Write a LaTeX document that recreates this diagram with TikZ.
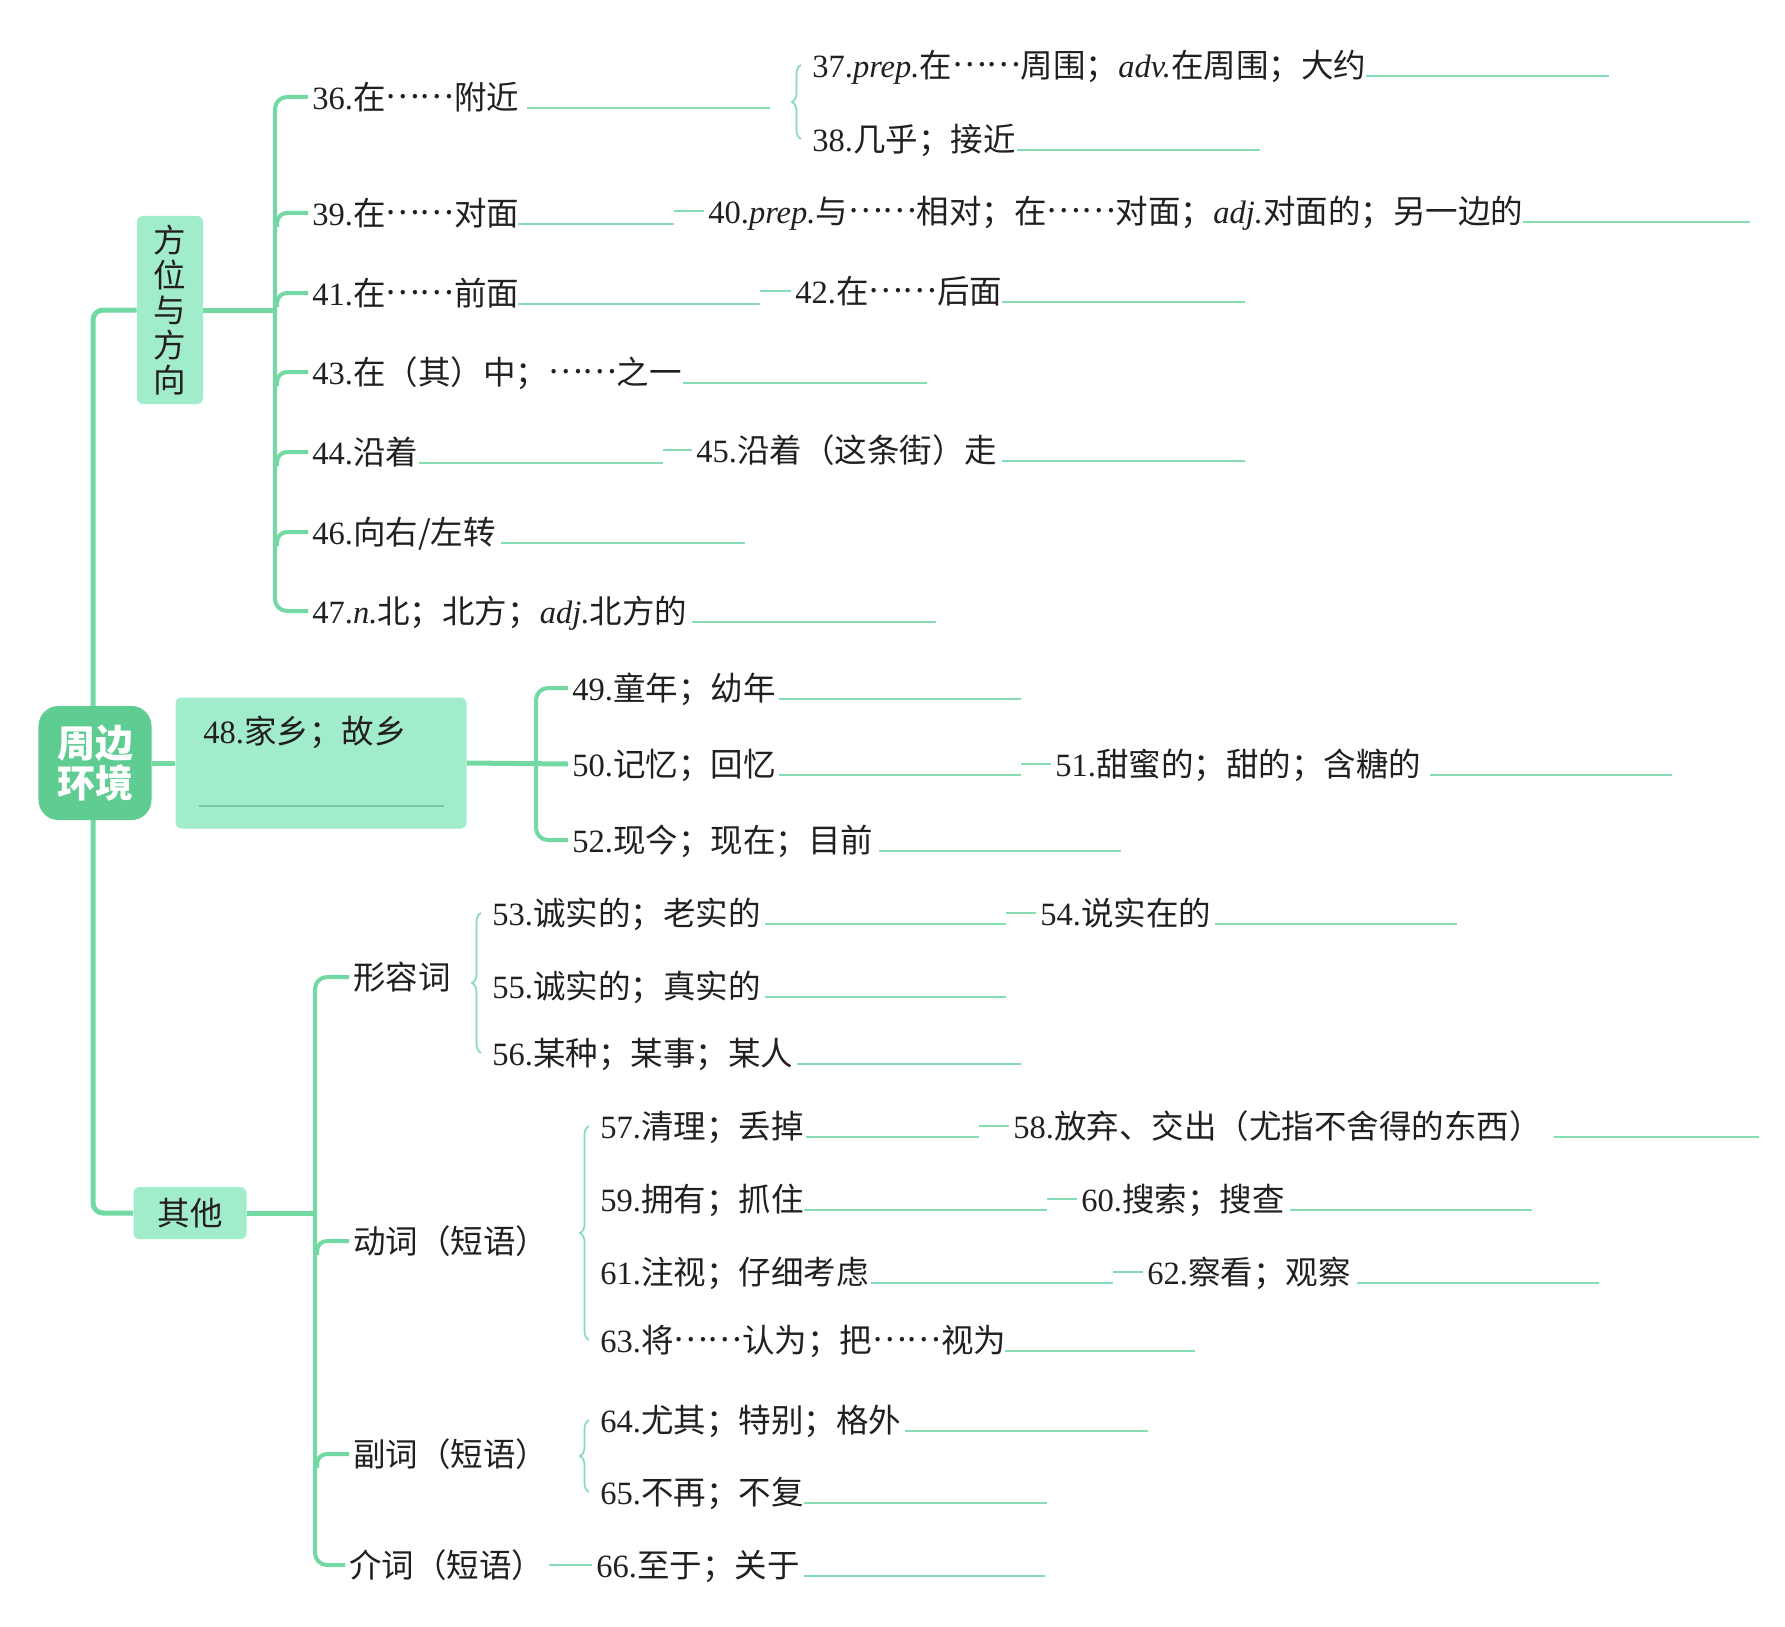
\documentclass[tikz,border=0pt]{standalone}
\usepackage{fontspec}
\setmainfont{Noto Sans CJK SC}
\newfontfamily\latn{Liberation Serif}
\newcommand\nr[1]{{\latn #1.}}
\newcommand\wc[1]{{\latn\itshape #1.}}
\newcommand\ellp{\raisebox{0.32em}{……}}
\usetikzlibrary{decorations.pathreplacing}
\definecolor{ink}{HTML}{231F20}
\definecolor{rootgreen}{HTML}{5FCC92}
\definecolor{linegreen}{HTML}{72D9A3}
\definecolor{boxgreen}{HTML}{A0ECCB}
\definecolor{blankgreen}{HTML}{86DDB3}

\begin{document}
\begin{tikzpicture}[x=0.2mm, y=-0.2mm,
    word/.style = {anchor=west, inner sep=0pt, outer sep=2.5pt, text height=5.7mm, text depth=0.8mm, text=ink, font=\fontsize{18.5pt}{22pt}\selectfont},
    tagbox/.style = {fill=boxgreen, rounded corners=1.2mm, inner sep=0pt, text=ink, font=\fontsize{18.5pt}{22pt}\selectfont},
    trunk/.style = {draw=linegreen, line width=1mm},
    branch/.style = {draw=linegreen, line width=0.8mm},
    curly/.style = {draw=blankgreen, line width=0.35mm, decorate, decoration={brace, amplitude=1.8mm}},
    blank/.style = {draw=blankgreen, line width=0.4mm},
    link/.style = {draw=blankgreen, line width=0.4mm}]
            \useasboundingbox (0,0) rectangle (1785,1626);

            % boxes and trunk
            \node[tagbox, minimum width=13.2mm, minimum height=37.6mm, align=center, font=\fontsize{18.5pt}{19.9pt}\selectfont] (fw) at (170,310) {方\\位\\与\\方\\向};
            \node[tagbox, minimum width=58.2mm, minimum height=26.2mm] (hx) at (321,763) {};
            \node[tagbox, minimum width=22.6mm, minimum height=10.4mm] (qt) at (190,1213) {其他};
            \draw[trunk, rounded corners=2mm] (fw.west) -| (93,760) |- (qt.west);
            \node[fill=rootgreen, rounded corners=4mm, minimum width=22.6mm, minimum height=22.8mm, inner sep=0pt, align=center, text=white, font=\fontsize{21.6pt}{22.8pt}\selectfont\bfseries] (root) at (95,763) {周边\\环境};
            \draw[trunk] (root.east) -- (hx.west);

            % 方位与方向
            \node[word] (t36) at (308,97) {\nr{36}在\ellp 附近};
            \node[word] (t37) at (808,65) {\nr{37}\wc{prep}在\ellp 周围；\wc{adv}在周围；大约};
            \node[word] (t38) at (808,139) {\nr{38}几乎；接近};
            \node[word] (t39) at (308,213) {\nr{39}在\ellp 对面};
            \node[word] (t40) at (704,211) {\nr{40}\wc{prep}与\ellp 相对；在\ellp 对面；\wc{adj}对面的；另一边的};
            \node[word] (t41) at (308,293) {\nr{41}在\ellp 前面};
            \node[word] (t42) at (791,291) {\nr{42}在\ellp 后面};
            \node[word] (t43) at (308,372) {\nr{43}在（其）中；\ellp 之一};
            \node[word] (t44) at (308,452) {\nr{44}沿着};
            \node[word] (t45) at (692,450) {\nr{45}沿着（这条街）走};
            \node[word] (t46) at (308,532) {\nr{46}向右/左转};
            \node[word] (t47) at (308,611) {\nr{47}\wc{n}北；北方；\wc{adj}北方的};
            \coordinate (fwj) at (275,310);
            \draw[trunk] (fw.east) -- (fwj);
            \draw[branch, rounded corners=2.4mm] (t36.west) -| (fwj) |- (t47.west);
            \foreach \n in {39,41,43,44,46}
                \draw[branch, rounded corners=2mm] (t\n.west) -| ++(-31,14);
            \draw[curly] ([xshift=-1.4mm]t38.west) -- ([xshift=-1.4mm]t37.west);
            \draw[blank] (527,108) -- (770,108);
            \draw[blank] (1366,76) -- (1609,76);
            \draw[blank] (1017,150) -- (1260,150);
            \draw[blank] (518,224) -- (674,224) coordinate (b39);
            \draw[blank] (1523,222) -- (1750,222);
            \draw[blank] (518,304) -- (760,304) coordinate (b41);
            \draw[blank] (1002,302) -- (1245,302);
            \draw[blank] (683,383) -- (927,383);
            \draw[blank] (419,463) -- (663,463) coordinate (b44);
            \draw[blank] (1002,461) -- (1245,461);
            \draw[blank] (501,543) -- (745,543);
            \draw[blank] (692,622) -- (936,622);
            \draw[link] (b39 |- t40.west) -- (t40.west);
            \draw[link] (b41 |- t42.west) -- (t42.west);
            \draw[link] (b44 |- t45.west) -- (t45.west);

            % 家乡
            \node[word] (t48) at (199,731) {\nr{48}家乡；故乡};
            \draw[draw=linegreen!80!black!60!boxgreen, line width=0.3mm] (199,806) -- (444,806);
            \node[word] (t49) at (568,688) {\nr{49}童年；幼年};
            \node[word] (t50) at (568,764) {\nr{50}记忆；回忆};
            \node[word] (t51) at (1051,764) {\nr{51}甜蜜的；甜的；含糖的};
            \node[word] (t52) at (568,840) {\nr{52}现今；现在；目前};
            \draw[trunk] (hx.east) -- (t50.west);
            \draw[branch, rounded corners=2.4mm] (t49.west) -| (536,764) |- (t52.west);
            \draw[blank] (779,699) -- (1021,699);
            \draw[blank] (779,775) -- (1021,775) coordinate (b50);
            \draw[blank] (1430,775) -- (1672,775);
            \draw[blank] (879,851) -- (1121,851);
            \draw[link] (b50 |- t51.west) -- (t51.west);

            % 其他
            \node[word] (cadj) at (349,977) {形容词};
            \node[word] (cverb) at (349,1241) {动词（短语）};
            \node[word] (cadv) at (349,1454) {副词（短语）};
            \node[word] (cprep) at (345,1565) {介词（短语）};
            \coordinate (qtj) at (315,1213);
            \draw[trunk] (qt.east) -- (qtj);
            \draw[branch, rounded corners=2.4mm] (cadj.west) -| (qtj) |- (cprep.west);
            \foreach \n in {cverb,cadv}
                \draw[branch, rounded corners=2mm] (\n.west) -| ++(-32,14);

            \node[word] (t53) at (488,913) {\nr{53}诚实的；老实的};
            \node[word] (t54) at (1036,913) {\nr{54}说实在的};
            \node[word] (t55) at (488,986) {\nr{55}诚实的；真实的};
            \node[word] (t56) at (488,1053) {\nr{56}某种；某事；某人};
            \draw[curly] ([xshift=-1.4mm]t56.west) -- ([xshift=-1.4mm]t53.west);
            \draw[blank] (765,924) -- (1006,924) coordinate (b53);
            \draw[blank] (1215,924) -- (1457,924);
            \draw[blank] (765,997) -- (1006,997);
            \draw[blank] (797,1064) -- (1021,1064);
            \draw[link] (b53 |- t54.west) -- (t54.west);

            \node[word] (t57) at (596,1126) {\nr{57}清理；丢掉};
            \node[word] (t58) at (1009,1126) {\nr{58}放弃、交出（尤指不舍得的东西）};
            \node[word] (t59) at (596,1199) {\nr{59}拥有；抓住};
            \node[word] (t60) at (1077,1199) {\nr{60}搜索；搜查};
            \node[word] (t61) at (596,1272) {\nr{61}注视；仔细考虑};
            \node[word] (t62) at (1143,1272) {\nr{62}察看；观察};
            \node[word] (t63) at (596,1340) {\nr{63}将\ellp 认为；把\ellp 视为};
            \draw[curly] ([xshift=-1.4mm]t63.west) -- ([xshift=-1.4mm]t57.west);
            \draw[blank] (806,1137) -- (979,1137) coordinate (b57);
            \draw[blank] (1554,1137) -- (1759,1137);
            \draw[blank] (804,1210) -- (1047,1210) coordinate (b59);
            \draw[blank] (1290,1210) -- (1532,1210);
            \draw[blank] (871,1283) -- (1113,1283) coordinate (b61);
            \draw[blank] (1357,1283) -- (1599,1283);
            \draw[blank] (1005,1351) -- (1195,1351);
            \draw[link] (b57 |- t58.west) -- (t58.west);
            \draw[link] (b59 |- t60.west) -- (t60.west);
            \draw[link] (b61 |- t62.west) -- (t62.west);

            \node[word] (t64) at (596,1420) {\nr{64}尤其；特别；格外};
            \node[word] (t65) at (596,1492) {\nr{65}不再；不复};
            \draw[curly] ([xshift=-1.4mm]t65.west) -- ([xshift=-1.4mm]t64.west);
            \draw[blank] (905,1431) -- (1148,1431);
            \draw[blank] (804,1503) -- (1047,1503);

            \node[word] (t66) at (592,1565) {\nr{66}至于；关于};
            \draw[link] (cprep.east) -- (t66.west);
            \draw[blank] (804,1576) -- (1045,1576);
        \end{tikzpicture}
\end{document}
